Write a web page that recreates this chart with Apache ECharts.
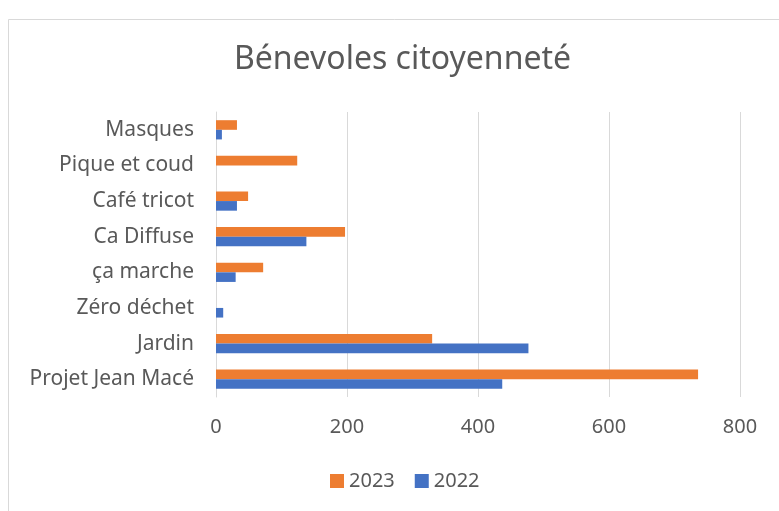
<!DOCTYPE html>
<html><head><meta charset="utf-8">
<script src="https://cdn.jsdelivr.net/npm/echarts@6/dist/echarts.min.js"></script>
<style>html,body{margin:0;padding:0;background:#fff}#c{width:779px;height:511px}</style>
</head><body><div id="c"></div>
<script>
const categories = ['Projet Jean Macé','Jardin','Zéro déchet','ça marche','Ca Diffuse','Café tricot','Pique et coud','Masques'];
const values2022 = [437, 477, 11, 30, 138, 32, 0, 9];
const values2023 = [736, 330, 0, 72, 197, 49, 124, 32];
const xTicks = [0, 200, 400, 600, 800];

const FONT = 'Noto Sans';
const chart = echarts.init(document.getElementById('c'));
chart.setOption({
  animation: false,
  backgroundColor: '#fff',
  graphic: [{type:'rect', shape:{x:8.5,y:19.5,width:900,height:700}, style:{fill:'none', stroke:'#d9d9d9', lineWidth:1}, silent:true}],
  title: {text:'Bénevoles citoyenneté', left:229, top:39,
    textStyle:{fontFamily:FONT, fontSize:32, fontWeight:'normal', color:'#595959'}},
  legend: {data:['2023','2022'], top:466, left:325, itemWidth:14, itemHeight:14, itemGap:20,
    icon:'rect', textStyle:{fontFamily:FONT, fontSize:20, color:'#595959'}},
  grid: {left:216, right:39, top:112, bottom:114, containLabel:false},
  xAxis: {type:'value', min:xTicks[0], max:xTicks[xTicks.length-1], interval:200,
    axisLine:{show:false}, axisTick:{show:false},
    axisLabel:{fontFamily:FONT, fontSize:20, color:'#595959', margin:20},
    splitLine:{lineStyle:{color:'#d9d9d9', width:1}}},
  yAxis: {type:'category', data:categories,
    axisLine:{show:true, lineStyle:{color:'#d9d9d9'}}, axisTick:{show:false},
    axisLabel:{fontFamily:FONT, fontSize:21, color:'#595959', margin:22}},
  series: [
    {name:'2023', type:'bar', data:values2023, itemStyle:{color:'#ED7D31'}, barGap:'0%', barCategoryGap:'46%'},
    {name:'2022', type:'bar', data:values2022, itemStyle:{color:'#4472C4'}, barGap:'0%', barCategoryGap:'46%'}
  ]
});
</script></body></html>
